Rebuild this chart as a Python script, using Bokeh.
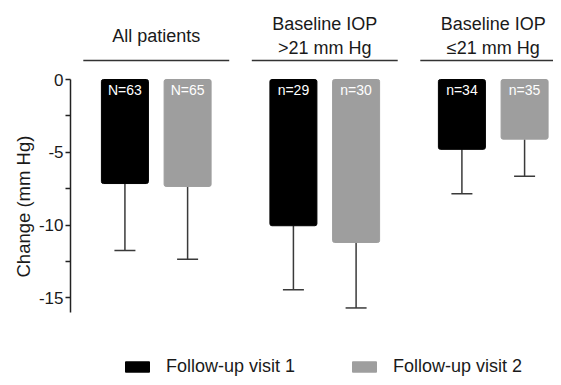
from bokeh.plotting import figure
from bokeh.models import (Range1d, ColumnDataSource, Whisker, TeeHead, FixedTicker,
                          Legend, LegendItem, Title)
from bokeh.core.properties import value
from bokeh.embed import file_html
from bokeh.resources import INLINE

# ---- data ----
groups = ["All patients", "Baseline IOP\n>21 mm Hg", "Baseline IOP\n\u226421 mm Hg"]
visits = ["Follow-up visit 1", "Follow-up visit 2"]
counts_v1 = ["N=63", "n=29", "n=34"]
counts_v2 = ["N=65", "n=30", "n=35"]
mean_v1 = [-7.15, -10.05, -4.8]
mean_v2 = [-7.35, -11.2, -4.1]
sd_v1 = [4.6, 4.4, 3.05]
sd_v2 = [5.0, 4.5, 2.55]
y_ticks = [0, -5, -10, -15]
y_tick_labels = ["0", "-5", "-10", "-15"]
y_minor_ticks = [-2.5, -7.5, -12.5]
y_title = "Change (mm Hg)"
colors = ["#000000", "#9e9e9e"]

# ---- layout constants ----
FONT = "Liberation Sans"
BAR_OFFSET = 0.186
BAR_WIDTH = 0.279
HEADER_HALF = 0.433

p = figure(width=553, height=377, output_backend="svg", toolbar_location=None,
           x_axis_type=None, x_range=Range1d(-0.509, 2.3576), y_range=Range1d(-20.48, 5.43),
           min_border_left=70, min_border_right=0, min_border_top=0, min_border_bottom=0)
p.outline_line_color = None
p.ygrid.grid_line_color = None
p.background_fill_color = "white"

renderers = []
for v, (means, sds, labels) in enumerate([(mean_v1, sd_v1, counts_v1), (mean_v2, sd_v2, counts_v2)]):
    xs = [g + (2 * v - 1) * BAR_OFFSET for g in range(len(groups))]
    src = ColumnDataSource(dict(x=xs, mean=means,
                                lower=[m - s for m, s in zip(means, sds)],
                                label=labels))
    r = p.vbar(x="x", top=0, bottom="mean", width=BAR_WIDTH, source=src,
               fill_color=colors[v], line_color=colors[v], border_radius=2)
    renderers.append(r)
    w = Whisker(source=src, base="x", upper="mean", lower="lower", dimension="height",
                line_color="#3a3a3a", line_width=1.5, upper_head=None,
                lower_head=TeeHead(size=21, line_color="#3a3a3a", line_width=1.5))
    p.add_layout(w)
    p.text(x="x", y=-0.15, text="label", source=src, text_color="white",
           text_align="center", text_baseline="top", text_font_size="14px",
           text_font=value(FONT))

# group headers
gx = list(range(len(groups)))
p.text(x=gx, y=3.02, text=groups, text_align="center", text_baseline="middle",
       text_font_size="18px", text_font=value(FONT), text_color="#1a1a1a")
p.segment(x0=[g - HEADER_HALF for g in gx], x1=[g + HEADER_HALF for g in gx],
          y0=1.306, y1=1.306, line_color="#333333", line_width=1.5)

# y axis
ax = p.yaxis[0]
ax.bounds = (-16, 0)
ax.ticker = FixedTicker(ticks=y_ticks, minor_ticks=y_minor_ticks)
ax.major_label_overrides = {t: l for t, l in zip(y_ticks, y_tick_labels)}
ax.major_label_text_font = FONT
ax.major_label_text_font_size = "17px"
ax.major_label_text_color = "#1a1a1a"
ax.major_label_standoff = 2
ax.axis_line_color = "#222222"
ax.axis_line_width = 1.5
ax.major_tick_line_color = "#222222"
ax.major_tick_line_width = 1.5
ax.minor_tick_line_color = "#222222"
ax.minor_tick_line_width = 1.5
ax.major_tick_out = 5
ax.major_tick_in = 0
ax.minor_tick_out = 5
ax.minor_tick_in = 0

# y axis title, placed lower than the frame centre as in the original
p.add_layout(Title(text=y_title, align="left", offset=100, standoff=4,
                   text_font=FONT, text_font_size="18.5px", text_font_style="normal",
                   text_color="#1a1a1a"), "left")

legend = Legend(items=[LegendItem(label=visits[i], renderers=[renderers[i]]) for i in range(2)],
                orientation="horizontal", location=(52, 0), glyph_width=30, glyph_height=13,
                label_standoff=14, spacing=54, padding=0, margin=0,
                border_line_alpha=0, background_fill_alpha=0,
                label_text_font=FONT, label_text_font_size="18px",
                label_text_color="#1a1a1a", label_height=17)
p.add_layout(legend)

open("out.html", "w").write(file_html(p, INLINE))
